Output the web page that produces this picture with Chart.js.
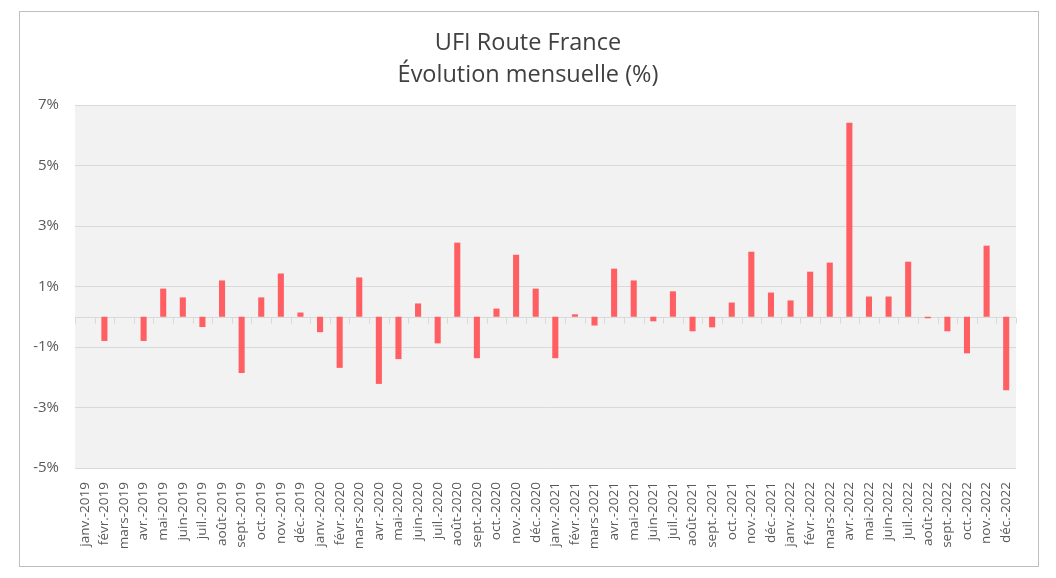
<!DOCTYPE html>
<html>
<head>
<meta charset="utf-8">
<script src="https://cdn.jsdelivr.net/npm/chart.js@4"></script>
<style>
  html, body { margin: 0; padding: 0; background: #fff; }
  #wrap { width: 1056px; height: 578px; position: relative; }
</style>
</head>
<body>
<div id="wrap"><canvas id="chartUfi"></canvas></div>
<script>
// UFI Route France - evolution mensuelle
var mois = ['janv.', 'févr.', 'mars', 'avr.', 'mai', 'juin', 'juil.', 'août', 'sept.', 'oct.', 'nov.', 'déc.'];
var annees = ['2019', '2020', '2021', '2022'];

var evol2019 = [0, -0.80, 0, -0.80, 0.93, 0.64, -0.34, 1.20, -1.86, 0.64, 1.43, 0.14];
var evol2020 = [-0.51, -1.69, 1.30, -2.22, -1.40, 0.44, -0.88, 2.45, -1.37, 0.27, 2.05, 0.93];
var evol2021 = [-1.37, 0.08, -0.29, 1.59, 1.20, -0.15, 0.84, -0.48, -0.35, 0.47, 2.15, 0.80];
var evol2022 = [0.54, 1.49, 1.79, 6.41, 0.67, 0.67, 1.82, -0.05, -0.48, -1.21, 2.35, -2.43];

var yTicks = [-5, -3, -1, 1, 3, 5, 7];

var labels = [];
annees.forEach(function (a) {
    mois.forEach(function (m) { labels.push(m + '-' + a); });
});
var valeurs = evol2019.concat(evol2020, evol2021, evol2022);

var fond = {
    id: 'fond',
    beforeDraw: function (chart) {
        var ctx = chart.ctx, a = chart.chartArea;
        ctx.save();
        ctx.strokeStyle = '#bfbfbf';
        ctx.lineWidth = 1;
        ctx.strokeRect(19.5, 11.5, 1019, 555);
        ctx.fillStyle = '#f2f2f2';
        ctx.fillRect(a.left, a.top, a.right - a.left, a.bottom - a.top);
        ctx.restore();
    },
    beforeDatasetsDraw: function (chart) {
        var ctx = chart.ctx, a = chart.chartArea;
        var x = chart.scales.x, y0 = Math.round(chart.scales.y.getPixelForValue(0)) + 0.5;
        ctx.save();
        ctx.strokeStyle = '#d9d9d9';
        ctx.lineWidth = 1;
        ctx.beginPath();
        ctx.moveTo(a.left, y0);
        ctx.lineTo(a.right, y0);
        var n = labels.length;
        var w = (x.getPixelForValue(1) - x.getPixelForValue(0));
        for (var i = 0; i <= n; i++) {
            var px = Math.round(x.getPixelForValue(i) - w / 2) + 0.5;
            ctx.moveTo(px, y0);
            ctx.lineTo(px, y0 + 6);
        }
        ctx.stroke();
        ctx.restore();
    }
};

var chartUfi = new Chart(document.getElementById('chartUfi'), {
    type: 'bar',
    data: {
        labels: labels,
        datasets: [{
            label: 'UFI Route France',
            data: valeurs,
            backgroundColor: '#ff5f62',
            barPercentage: 0.31,
            categoryPercentage: 1
        }]
    },
    options: {
        responsive: true,
        maintainAspectRatio: false,
        animation: false,
        layout: { padding: 0 },
        plugins: {
            legend: { display: false },
            tooltip: { enabled: false },
            title: {
                display: true,
                text: ['UFI Route France', 'Évolution mensuelle (%)'],
                color: '#404040',
                font: { family: 'Open Sans', size: 23.5, weight: 'normal', lineHeight: 1.362 },
                padding: { top: 27, bottom: 14 }
            }
        },
        scales: {
            x: {
                grid: { display: false, drawTicks: false },
                border: { display: false },
                ticks: {
                    autoSkip: false,
                    minRotation: 90,
                    maxRotation: 90,
                    padding: 14,
                    color: '#595959',
                    font: { family: 'Open Sans', size: 13.5 }
                },
                afterFit: function (s) { s.height = 110; }
            },
            y: {
                min: yTicks[0],
                max: yTicks[yTicks.length - 1],
                grid: { color: '#d9d9d9', drawTicks: false },
                border: { display: false },
                afterBuildTicks: function (s) {
                    s.ticks = yTicks.map(function (v) { return { value: v }; });
                },
                ticks: {
                    padding: 16,
                    color: '#595959',
                    font: { family: 'Open Sans', size: 15 },
                    callback: function (v) { return v + '%'; }
                },
                afterFit: function (s) { s.width = 75; }
            },
            droite: {
                position: 'right',
                grid: { display: false, drawTicks: false },
                border: { display: false },
                ticks: { display: false },
                afterFit: function (s) { s.width = 40; }
            }
        }
    },
    plugins: [fond]
});
</script>
</body>
</html>
